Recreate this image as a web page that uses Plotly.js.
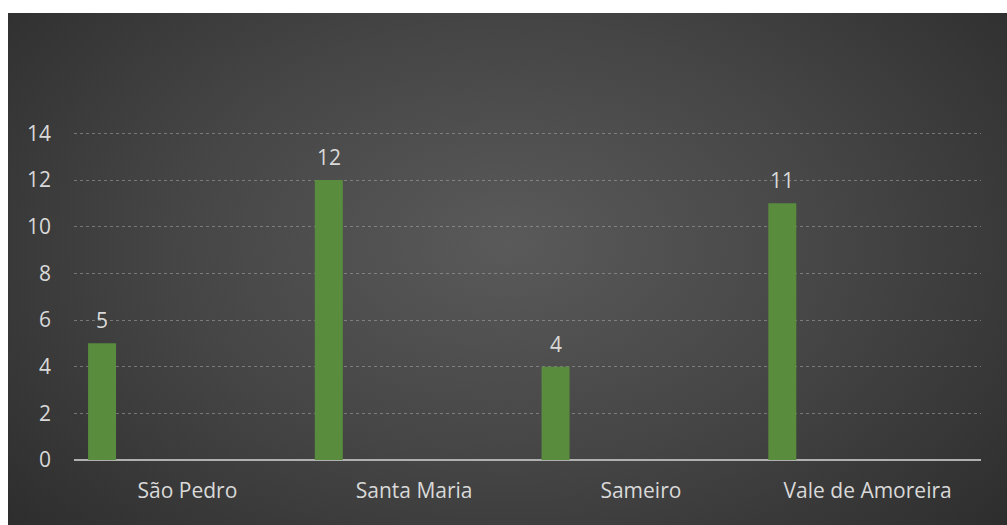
<!DOCTYPE html>
<html>
<head>
<meta charset="utf-8">
<script src="https://cdn.plot.ly/plotly-3.0.1.min.js"></script>
<style>
  html, body { margin: 0; padding: 0; background: #ffffff; width: 1007px; height: 525px; overflow: hidden; }
  #wrap {
    position: absolute; left: 8px; top: 13px; width: 999px; height: 512px;
    background: radial-gradient(ellipse 75% 95% at 50% 45%, #5a5a5a 0%, #454545 45%, #2f2f2f 85%, #262626 100%);
  }
  #chart { width: 999px; height: 512px; }
</style>
</head>
<body>
<div id="wrap"><div id="chart"></div></div>
<script>
const categories = ["São Pedro", "Santa Maria", "Sameiro", "Vale de Amoreira"];
const values = [5, 12, 4, 11];
const yTicks = [0, 2, 4, 6, 8, 10, 12, 14];

const textColor = "#d9d9d9";
const fontFamily = "'Open Sans', 'Noto Sans', sans-serif";
const barWidth = 0.1235;
const barOffset = -0.438;

const trace = {
  type: "bar",
  x: categories,
  y: values,
  width: barWidth,
  offset: barOffset,
  marker: { color: "#598c3d", line: { width: 0 } },
  hoverinfo: "x+y"
};

const annotations = values.map((v, i) => ({
  x: i + barOffset + barWidth / 2,
  y: v,
  xref: "x",
  yref: "y",
  text: String(v),
  showarrow: false,
  yanchor: "bottom",
  yshift: 7,
  font: { size: 21, color: textColor, family: fontFamily }
}));

const layout = {
  width: 999,
  height: 512,
  paper_bgcolor: "rgba(0,0,0,0)",
  plot_bgcolor: "rgba(0,0,0,0)",
  margin: { l: 66, r: 26, t: 118, b: 65 },
  showlegend: false,
  font: { family: fontFamily, color: textColor, size: 21 },
  annotations: annotations,
  xaxis: {
    type: "category",
    showgrid: false,
    zeroline: false,
    showline: false,
    ticks: "",
    ticklabelstandoff: 16,
    tickfont: { size: 21, color: textColor, family: fontFamily },
    range: [-0.5, 3.5]
  },
  yaxis: {
    range: [0, 14.1],
    tickvals: yTicks,
    ticktext: yTicks.map(String),
    showgrid: true,
    gridcolor: "rgba(175,175,175,0.5)",
    griddash: "dot",
    gridwidth: 1,
    zeroline: true,
    zerolinecolor: "#b0b0b0",
    zerolinewidth: 2.5,
    showline: false,
    ticks: "",
    ticklabelstandoff: 22,
    tickfont: { size: 21, color: textColor, family: fontFamily }
  }
};

Plotly.newPlot("chart", [trace], layout, { displayModeBar: false, staticPlot: true });
</script>
</body>
</html>
